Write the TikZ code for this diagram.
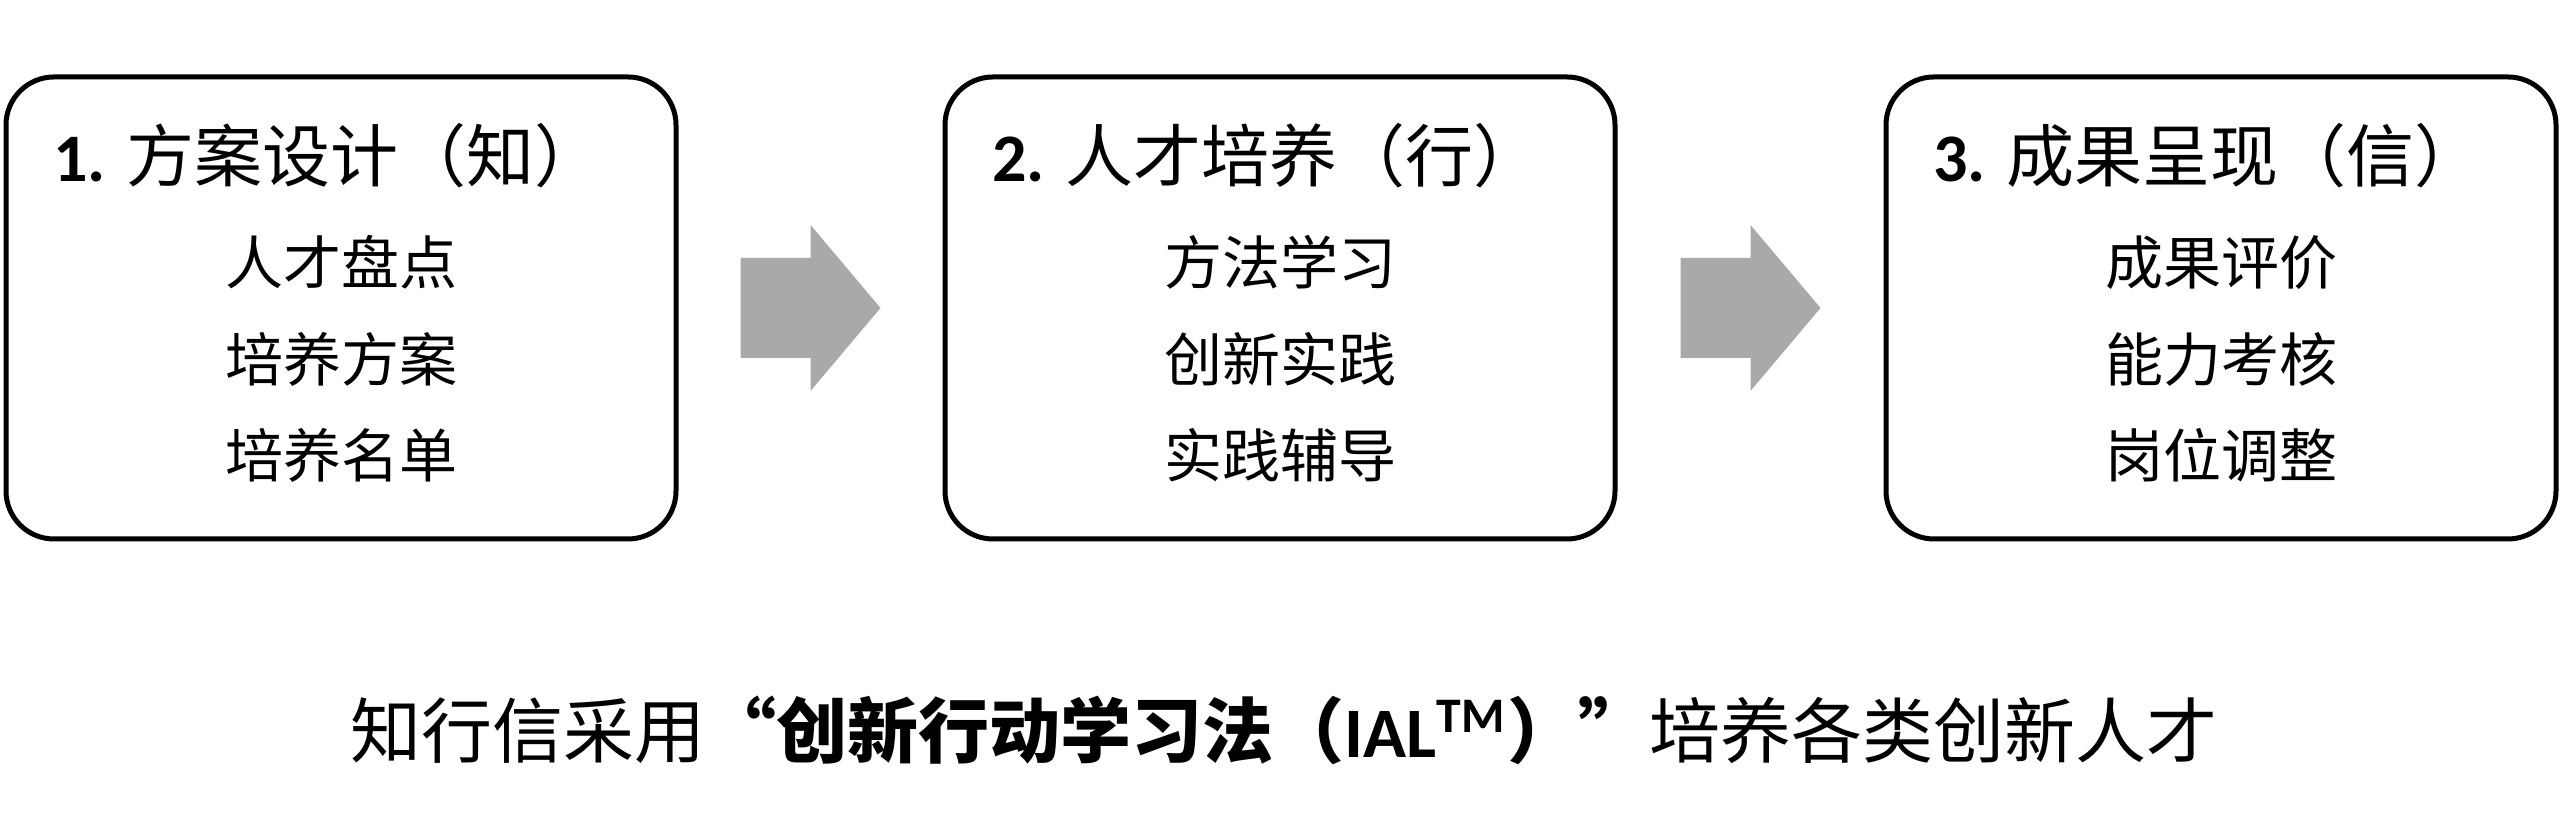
\documentclass[tikz,border=0pt]{standalone}
\usepackage{fontspec}
\setmainfont{Carlito}
\newfontfamily\cjk{Noto Sans CJK SC}
\newfontfamily\cjkquote[CharacterWidth=Full]{Noto Sans CJK SC}
\usepackage{xcolor}
\usepackage{tikz}
\usetikzlibrary{positioning,calc}
\definecolor{flowgray}{RGB}{169,169,169}

\begin{document}
\begin{tikzpicture}[x=0.25pt, y=0.25pt, node distance = 9.2pt]
            \tikzstyle{stage} = [draw=black, line width=1.25pt, rounded corners=12pt, minimum width=167.5pt, minimum height=115.5pt, inner sep=0pt];
            \tikzstyle{title} = [anchor=base west, inner sep=0pt, font=\fontsize{17}{20}\selectfont];
            \tikzstyle{item} = [inner sep=0pt, text height=12pt, text depth=2.5pt, font=\cjk\fontsize{14.5}{18}\selectfont];
            \tikzstyle{flow} = [fill=flowgray];
            \useasboundingbox (0,0) rectangle (2560,820);

            \node [stage] (B1) at (341,512) {};
            \node [stage] (B2) at (1280,512) {};
            \node [stage] (B3) at (2221,512) {};

            \node [title] (T1) at ($(B1.north west)+(49,-107)$) {\textbf{1.} {\cjk 方案设计（知）}};
            \node [item] (I1) at ($(B1.center)+(0,42)$) {人才盘点};
            \node [item, below = of I1] (I2) {培养方案};
            \node [item, below = of I2] (I3) {培养名单};

            \node [title] (T2) at ($(B2.north west)+(49,-107)$) {\textbf{2.} {\cjk 人才培养（行）}};
            \node [item] (I4) at ($(B2.center)+(0,42)$) {方法学习};
            \node [item, below = of I4] (I5) {创新实践};
            \node [item, below = of I5] (I6) {实践辅导};

            \node [title] (T3) at ($(B3.north west)+(49,-107)$) {\textbf{3.} {\cjk 成果呈现（信）}};
            \node [item] (I7) at ($(B3.center)+(0,42)$) {成果评价};
            \node [item, below = of I7] (I8) {能力考核};
            \node [item, below = of I8] (I9) {岗位调整};

            \coordinate (A1) at ($(B1.east)!0.5!(B2.west)$);
            \coordinate (A2) at ($(B2.east)!0.5!(B3.west)$);
            \fill [flow] ($(A1)+(-70,50)$) -- ($(A1)+(0,50)$) -- ($(A1)+(0,83)$) -- ($(A1)+(70,0)$) -- ($(A1)+(0,-83)$) -- ($(A1)+(0,-50)$) -- ($(A1)+(-70,-50)$) -- cycle;
            \fill [flow] ($(A2)+(-70,50)$) -- ($(A2)+(0,50)$) -- ($(A2)+(0,83)$) -- ($(A2)+(70,0)$) -- ($(A2)+(0,-83)$) -- ($(A2)+(0,-50)$) -- ($(A2)+(-70,-50)$) -- cycle;

            \node [inner sep=0pt, font=\cjk\fontsize{17.75}{21}\selectfont] (C) at (1284,90) {知行信采用{\bfseries{\cjkquote “}创新行动学习法（{\rmfamily\bfseries IAL\textsuperscript{TM}}）{\cjkquote ”}}培养各类创新人才};
        \end{tikzpicture}
\end{document}
